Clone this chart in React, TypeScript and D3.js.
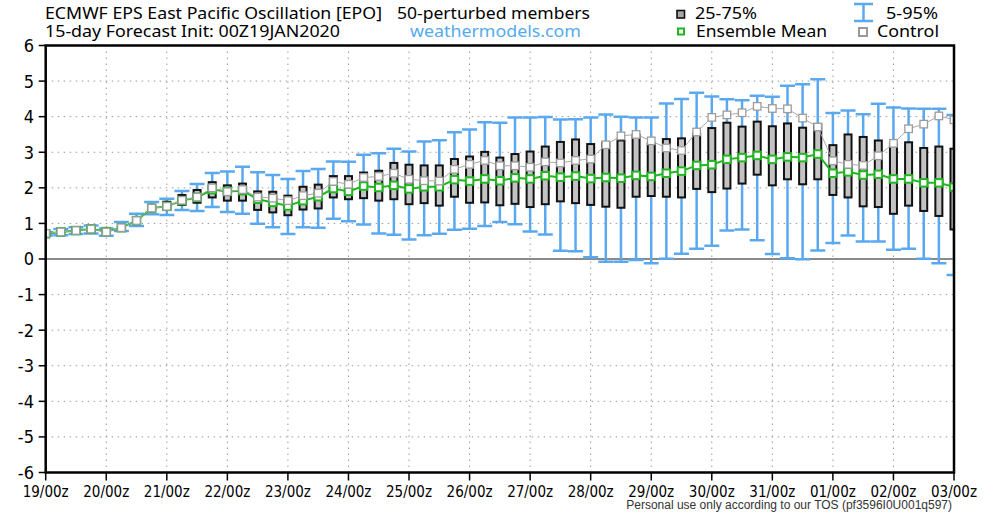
import React, { useEffect, useRef } from "react";
import * as d3 from "d3";

// ── Data (6-hourly steps, 19 Jan 00z .. 03 Feb 00z) ──────────────────────────

const DAY_LABELS = [
  "19/00z", "20/00z", "21/00z", "22/00z", "23/00z", "24/00z", "25/00z", "26/00z",
  "27/00z", "28/00z", "29/00z", "30/00z", "31/00z", "01/00z", "02/00z", "03/00z",
];

const Y_TICKS = [6, 5, 4, 3, 2, 1, 0, -1, -2, -3, -4, -5, -6];

const P5 = [
  0.66, 0.67, 0.70, 0.72, 0.65, 0.79, 0.93, 1.26, 1.24, 1.38, 1.35, 1.46, 1.32, 1.27, 0.99,
  0.89, 0.70, 0.89, 0.88, 1.13, 1.06, 0.97, 0.72, 0.68, 0.55, 0.67, 0.71, 0.82, 0.85, 0.93,
  1.04, 0.98, 0.77, 0.69, 0.23, 0.22, 0.05, -0.08, -0.08, -0.03, -0.12, 0.01, 0.15, 0.29, 0.37,
  0.80, 0.83, 0.53, 0.14, 0.02, -0.01, 0.24, 0.45, 0.66, 0.49, 0.49, 0.26, 0.29, 0.01, -0.12,
  -0.45,
];

const P25 = [
  0.69, 0.73, 0.76, 0.79, 0.72, 0.84, 1.02, 1.38, 1.38, 1.52, 1.58, 1.73, 1.64, 1.64, 1.38,
  1.31, 1.23, 1.39, 1.42, 1.73, 1.68, 1.71, 1.64, 1.68, 1.54, 1.57, 1.50, 1.75, 1.58, 1.59,
  1.51, 1.55, 1.46, 1.54, 1.62, 1.57, 1.52, 1.47, 1.44, 1.75, 1.77, 1.75, 1.73, 1.97, 1.88,
  1.98, 2.12, 2.37, 2.07, 2.24, 2.10, 2.24, 1.80, 1.73, 1.48, 1.46, 1.27, 1.50, 1.35, 1.21,
  0.83,
];

const P75 = [
  0.75, 0.80, 0.84, 0.88, 0.81, 0.93, 1.13, 1.49, 1.61, 1.80, 1.94, 2.16, 2.07, 2.12, 1.90,
  1.89, 1.78, 2.03, 2.09, 2.33, 2.33, 2.43, 2.48, 2.70, 2.65, 2.63, 2.63, 2.81, 2.88, 3.01,
  2.85, 2.95, 3.02, 3.16, 3.29, 3.36, 3.23, 3.27, 3.33, 3.49, 3.25, 3.37, 3.39, 3.52, 3.68,
  3.83, 3.72, 3.86, 3.73, 3.81, 3.69, 3.79, 3.20, 3.50, 3.43, 3.33, 3.25, 3.28, 3.12, 3.16,
  3.10,
];

const P95 = [
  0.76, 0.84, 0.89, 0.94, 0.86, 1.04, 1.27, 1.60, 1.69, 1.91, 2.11, 2.42, 2.46, 2.59, 2.44,
  2.36, 2.25, 2.47, 2.53, 2.74, 2.73, 2.93, 2.97, 3.10, 3.02, 3.30, 3.34, 3.56, 3.64, 3.84,
  3.83, 3.98, 3.98, 3.99, 3.92, 3.93, 3.98, 4.06, 4.00, 3.98, 3.98, 4.37, 4.50, 4.67, 4.57,
  4.49, 4.46, 4.59, 4.56, 4.87, 4.91, 5.05, 4.10, 4.17, 4.07, 4.36, 4.26, 4.23, 4.22, 4.22,
  4.05,
];

const MEAN = [
  0.71, 0.76, 0.80, 0.84, 0.77, 0.88, 1.08, 1.43, 1.48, 1.64, 1.73, 1.95, 1.90, 1.92, 1.68,
  1.59, 1.49, 1.64, 1.75, 1.98, 1.90, 2.05, 2.01, 2.07, 1.97, 2.03, 2.03, 2.23, 2.19, 2.25,
  2.20, 2.28, 2.25, 2.34, 2.30, 2.33, 2.26, 2.29, 2.27, 2.35, 2.32, 2.41, 2.47, 2.63, 2.65,
  2.80, 2.85, 2.91, 2.80, 2.87, 2.85, 2.95, 2.41, 2.45, 2.36, 2.38, 2.25, 2.25, 2.14, 2.14,
  2.02,
];

const CONTROL = [
  0.72, 0.76, 0.80, 0.84, 0.76, 0.88, 1.08, 1.43, 1.48, 1.65, 1.74, 2.00, 1.89, 1.95, 1.74,
  1.71, 1.64, 1.78, 1.85, 2.18, 2.10, 2.29, 2.32, 2.41, 2.24, 2.20, 2.19, 2.52, 2.66, 2.77,
  2.62, 2.62, 2.58, 2.73, 2.70, 2.77, 2.81, 3.21, 3.46, 3.50, 3.32, 3.12, 3.05, 3.57, 3.98,
  4.05, 4.11, 4.29, 4.23, 4.22, 3.96, 3.71, 2.76, 2.66, 2.63, 2.90, 3.25, 3.66, 3.79, 4.02,
  3.91,
];

// ── Constants ─────────────────────────────────────────────────────────────────

const W = 1000;
const H = 516;
const PLOT = { left: 45.7, right: 954, top: 45.5, bottom: 472.5 };
const STEPS_PER_DAY = 4;

const BLUE = "#5aa9f0";
const GREEN = "#22b422";
const CTRL_GRAY = "#a8a8a8";
const BOX_FILL = "#c3c3c3";

const TITLE_FONT = "'Noto Sans', sans-serif";
const AXIS_FONT = "'DejaVu Sans Condensed', 'DejaVu Sans', sans-serif";

function renderChart(svgEl: SVGSVGElement) {
  const svg = d3.select(svgEl);
  svg.selectAll("*").remove();

  const n = MEAN.length;
  const x = d3.scaleLinear().domain([0, n - 1]).range([PLOT.left, PLOT.right]);
  const y = d3.scaleLinear().domain([-6, 6]).range([PLOT.bottom, PLOT.top]);
  const idx = d3.range(n);

  svg.append("rect").attr("width", W).attr("height", H).attr("fill", "#fff");

  svg
    .append("defs")
    .append("clipPath")
    .attr("id", "plot-clip")
    .append("rect")
    .attr("x", PLOT.left)
    .attr("y", PLOT.top)
    .attr("width", PLOT.right - PLOT.left)
    .attr("height", PLOT.bottom - PLOT.top);

  // Grid
  const grid = svg.append("g");
  grid
    .selectAll("line.hgrid")
    .data(Y_TICKS.filter((v) => v !== 0 && Math.abs(v) !== 6))
    .join("line")
    .attr("x1", PLOT.left)
    .attr("x2", PLOT.right)
    .attr("y1", (d) => y(d))
    .attr("y2", (d) => y(d))
    .attr("stroke", "#9a9a9a")
    .attr("stroke-width", 1)
    .attr("stroke-dasharray", "1.5,4.5");

  const dayIdx = DAY_LABELS.map((_, i) => i * STEPS_PER_DAY);
  grid
    .selectAll("line.vgrid")
    .data(dayIdx.slice(1, -1))
    .join("line")
    .attr("x1", (d) => x(d))
    .attr("x2", (d) => x(d))
    .attr("y1", PLOT.top)
    .attr("y2", PLOT.bottom)
    .attr("stroke", "#9a9a9a")
    .attr("stroke-width", 1)
    .attr("stroke-dasharray", "1.5,4.5");

  // Zero line
  svg
    .append("line")
    .attr("x1", PLOT.left)
    .attr("x2", PLOT.right)
    .attr("y1", y(0))
    .attr("y2", y(0))
    .attr("stroke", "#8a8a8a")
    .attr("stroke-width", 2);

  const plot = svg.append("g").attr("clip-path", "url(#plot-clip)");

  // Whiskers 5-95%
  const cap = 7.5;
  const wh = plot.append("g").attr("stroke", BLUE).attr("stroke-width", 2.5).attr("fill", "none");
  wh.selectAll("path")
    .data(idx)
    .join("path")
    .attr("d", (i) => {
      const cx = x(i);
      const t = y(P95[i]);
      const b = y(P5[i]);
      return `M${cx - cap},${t}H${cx + cap}M${cx},${t}V${b}M${cx - cap},${b}H${cx + cap}`;
    });

  // Boxes 25-75%
  const bw = 7;
  plot
    .append("g")
    .selectAll("rect")
    .data(idx)
    .join("rect")
    .attr("x", (i) => x(i) - bw / 2)
    .attr("y", (i) => y(P75[i]))
    .attr("width", bw)
    .attr("height", (i) => Math.max(0.5, y(P25[i]) - y(P75[i])))
    .attr("fill", BOX_FILL)
    .attr("stroke", "#111")
    .attr("stroke-width", 2);

  // Ensemble mean
  const meanLine = d3.line<number>().x((i) => x(i)).y((i) => y(MEAN[i]));
  plot
    .append("path")
    .attr("d", meanLine(idx))
    .attr("fill", "none")
    .attr("stroke", GREEN)
    .attr("stroke-width", 2);
  plot
    .append("g")
    .selectAll("rect")
    .data(idx)
    .join("rect")
    .attr("x", (i) => x(i) - 3.75)
    .attr("y", (i) => y(MEAN[i]) - 3.75)
    .attr("width", 7.5)
    .attr("height", 7.5)
    .attr("fill", "#fff")
    .attr("stroke", GREEN)
    .attr("stroke-width", 2);

  // Control
  const ctrlLine = d3.line<number>().x((i) => x(i)).y((i) => y(CONTROL[i]));
  plot
    .append("path")
    .attr("d", ctrlLine(idx))
    .attr("fill", "none")
    .attr("stroke", CTRL_GRAY)
    .attr("stroke-width", 1);
  plot
    .append("g")
    .selectAll("rect")
    .data(idx)
    .join("rect")
    .attr("x", (i) => x(i) - 3.75)
    .attr("y", (i) => y(CONTROL[i]) - 3.75)
    .attr("width", 7.5)
    .attr("height", 7.5)
    .attr("fill", "#fff")
    .attr("stroke", "#9c9c9c")
    .attr("stroke-width", 1.3);

  // Frame
  svg
    .append("rect")
    .attr("x", PLOT.left)
    .attr("y", PLOT.top)
    .attr("width", PLOT.right - PLOT.left)
    .attr("height", PLOT.bottom - PLOT.top)
    .attr("fill", "none")
    .attr("stroke", "#000")
    .attr("stroke-width", 2.5);

  // Y axis
  const yAx = svg.append("g");
  yAx
    .selectAll("line")
    .data(Y_TICKS)
    .join("line")
    .attr("x1", PLOT.left - 7)
    .attr("x2", PLOT.left)
    .attr("y1", (d) => y(d))
    .attr("y2", (d) => y(d))
    .attr("stroke", "#000")
    .attr("stroke-width", 1.5);
  yAx
    .selectAll("text")
    .data(Y_TICKS)
    .join("text")
    .attr("x", 34)
    .attr("y", (d) => y(d))
    .attr("dy", "0.36em")
    .attr("text-anchor", "end")
    .attr("font-family", AXIS_FONT)
    .attr("font-size", 18)
    .attr("fill", "#000")
    .text((d) => String(d));

  // X axis
  const xAx = svg.append("g");
  xAx
    .selectAll("line")
    .data(dayIdx)
    .join("line")
    .attr("x1", (d) => x(d))
    .attr("x2", (d) => x(d))
    .attr("y1", PLOT.bottom)
    .attr("y2", PLOT.bottom + 8)
    .attr("stroke", "#000")
    .attr("stroke-width", 1.5);
  xAx
    .selectAll("text")
    .data(DAY_LABELS)
    .join("text")
    .attr("x", (_, i) => x(dayIdx[i]))
    .attr("y", 497)
    .attr("text-anchor", "middle")
    .attr("font-family", AXIS_FONT)
    .attr("font-size", 15)
    .attr("fill", "#000")
    .text((d) => d);

  // Titles (widths matched to the reference)
  const txt = (tx: number, ty: number, s: string, len: number, color = "#000") =>
    svg
      .append("text")
      .attr("x", tx)
      .attr("y", ty)
      .attr("font-family", TITLE_FONT)
      .attr("font-size", 16.5)
      .attr("textLength", len)
      .attr("lengthAdjust", "spacingAndGlyphs")
      .attr("fill", color)
      .text(s);

  txt(45, 19, "ECMWF EPS East Pacific Oscillation [EPO]", 337);
  txt(397, 19, "50-perturbed members", 193);
  txt(45, 37, "15-day Forecast Init: 00Z19JAN2020", 295);
  txt(410, 37, "weathermodels.com", 171, "#55aaee");

  // Legend
  svg
    .append("rect")
    .attr("x", 677)
    .attr("y", 10.5)
    .attr("width", 7.5)
    .attr("height", 7.5)
    .attr("fill", "#a8a8a8")
    .attr("stroke", "#111")
    .attr("stroke-width", 1.6);
  txt(695, 19, "25-75%", 62);
  svg
    .append("path")
    .attr("d", "M854,4H873M863.5,4V21M854,21H873")
    .attr("fill", "none")
    .attr("stroke", BLUE)
    .attr("stroke-width", 2.5);
  txt(886, 19, "5-95%", 52);
  svg
    .append("rect")
    .attr("x", 678)
    .attr("y", 28.5)
    .attr("width", 6)
    .attr("height", 6)
    .attr("fill", "#fff")
    .attr("stroke", GREEN)
    .attr("stroke-width", 2);
  txt(696, 37, "Ensemble Mean", 131);
  svg
    .append("rect")
    .attr("x", 859)
    .attr("y", 28)
    .attr("width", 8)
    .attr("height", 8)
    .attr("fill", "#fff")
    .attr("stroke", "#999")
    .attr("stroke-width", 2);
  txt(877, 37, "Control", 62);

  // Footer
  svg
    .append("text")
    .attr("x", 952)
    .attr("y", 509)
    .attr("text-anchor", "end")
    .attr("font-family", "'Liberation Sans', Arial, sans-serif")
    .attr("font-size", 12)
    .attr("fill", "#333")
    .text("Personal use only according to our TOS (pf3596I0U001q597)");
}

export default function App() {
  const svgRef = useRef<SVGSVGElement>(null);

  useEffect(() => {
    document.body.style.margin = "0";
    if (svgRef.current) renderChart(svgRef.current);
  }, []);

  return <svg ref={svgRef} width={W} height={H} style={{ display: "block" }} />;
}
